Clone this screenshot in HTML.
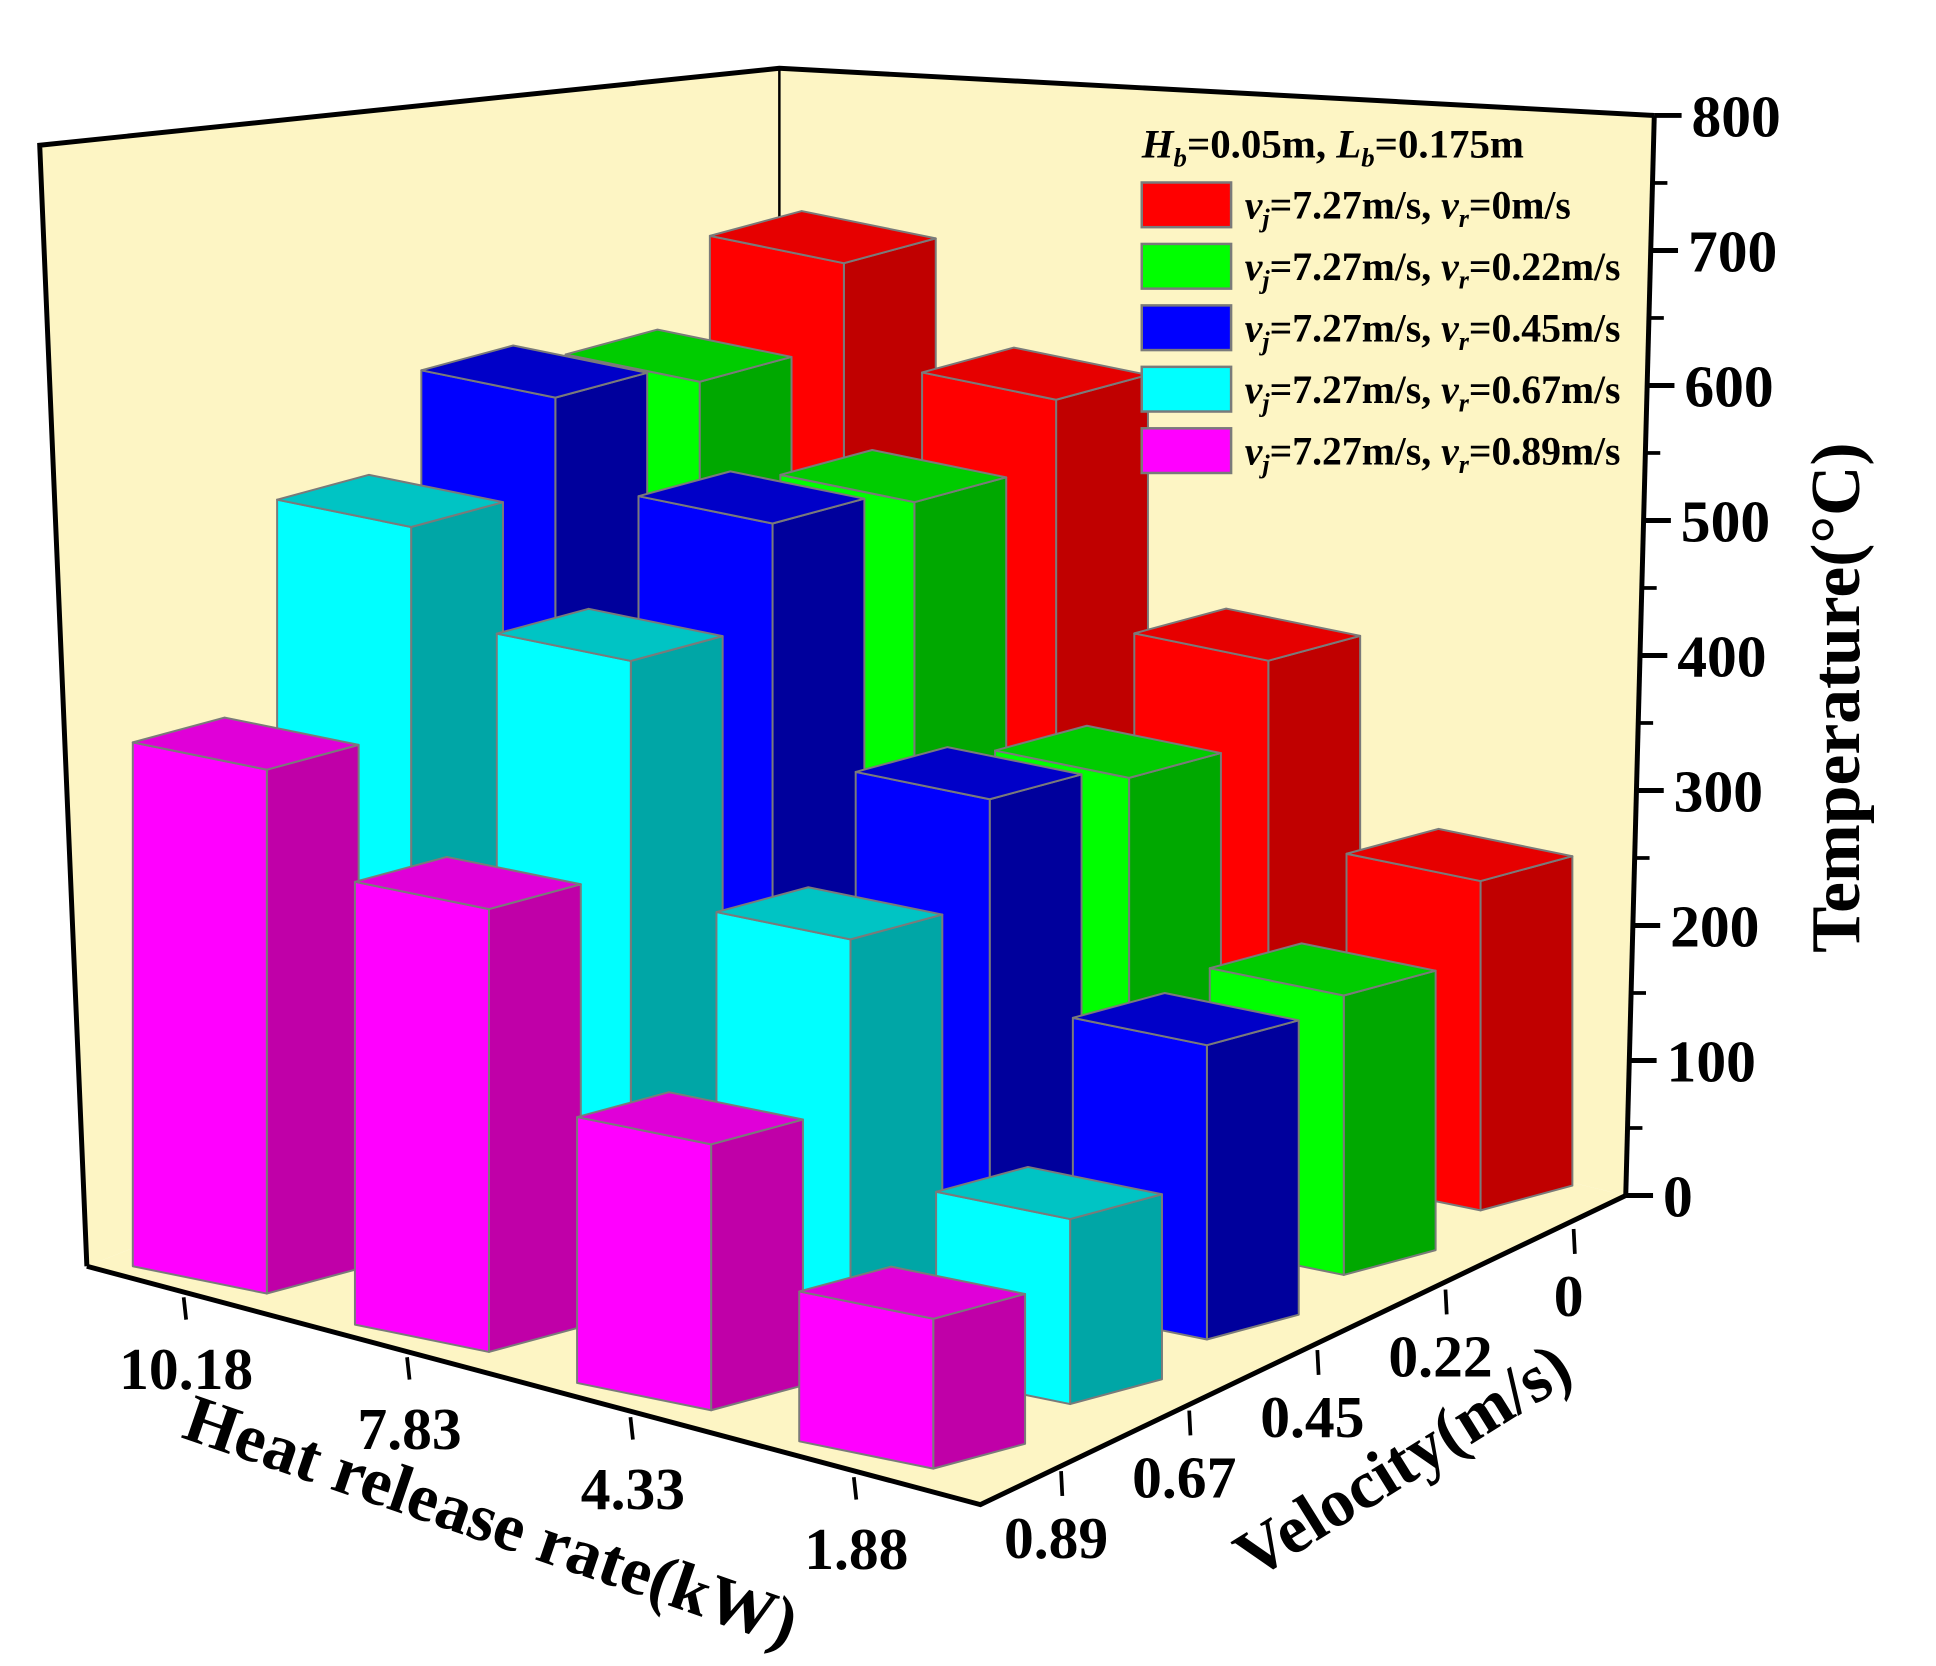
<!DOCTYPE html>
<html>
<head>
<meta charset="utf-8">
<style>
  html, body { margin: 0; padding: 0; background: #fff; }
  svg { display: block; }
  text { font-family: "Liberation Serif", serif; font-weight: bold; fill: #000; }
</style>
</head>
<body>
<svg id="chart" width="1936" height="1666" viewBox="0 0 1560 1342" preserveAspectRatio="none" xmlns="http://www.w3.org/2000/svg">
  <g id="walls">
    <polygon points="32,117 628,55 628,800 70,1020" fill="#fdf5c4"/>
    <polygon points="628,55 1333,93 1310,963 628,800" fill="#fdf5c4"/>
    <polygon points="70,1020 628,800 1310,963 790,1212" fill="#fdf5c4"/>
    <polyline points="70,1020 32,117 628,55 1333,93" fill="none" stroke="#000" stroke-width="4"/>
    <line x1="628" y1="55" x2="628" y2="800" stroke="#000" stroke-width="2"/>
    <polyline points="70,1020 790,1212 1310,963" fill="none" stroke="#000" stroke-width="4"/>
    <line x1="1333" y1="93" x2="1310" y2="963" stroke="#000" stroke-width="4"/>
  </g>
  <g id="bars"></g>
  <g id="axes"></g>
  <g id="legend">
    <text x="920" y="127" font-size="32" textLength="308" lengthAdjust="spacingAndGlyphs"><tspan font-style="italic">H</tspan><tspan font-style="italic" font-size="21" dy="7">b</tspan><tspan dy="-7">=0.05m, </tspan><tspan font-style="italic">L</tspan><tspan font-style="italic" font-size="21" dy="7">b</tspan><tspan dy="-7">=0.175m</tspan></text>
  </g>
  <text x="390" y="1242" font-size="55" text-anchor="middle" transform="rotate(19 390 1242)">Heat release rate(kW)</text>
  <text x="1140" y="1192" font-size="55" text-anchor="middle" transform="rotate(-32 1140 1192)">Velocity(m/s)</text>
  <text x="1498" y="562" font-size="56" text-anchor="middle" transform="rotate(-90 1498 562)">Temperature(°C)</text>
</svg>
<script>
const heatCategories = ["10.18", "7.83", "4.33", "1.88"];
const velocityCategories = ["0", "0.22", "0.45", "0.67", "0.89"];
const seriesRed = [572, 514, 364, 244];
const seriesGreen = [532, 486, 325, 207];
const seriesBlue = [568, 518, 357, 218];
const seriesCyan = [520, 464, 301, 137];
const seriesMagenta = [388, 328, 197, 111];
const zTicks = [0, 100, 200, 300, 400, 500, 600, 700, 800];
const legendLabels = ["0m/s", "0.22m/s", "0.45m/s", "0.67m/s", "0.89m/s"];

const NS = "http://www.w3.org/2000/svg";
const series = [seriesRed, seriesGreen, seriesBlue, seriesCyan, seriesMagenta];
const colors = [
  ["#ff0000", "#e60000", "#c00000"],
  ["#00ff00", "#00cc00", "#00a800"],
  ["#0000ff", "#0000c8", "#00009c"],
  ["#00ffff", "#00c4c4", "#00a6a6"],
  ["#ff00ff", "#e000d8", "#c000a8"]
];
const seriesNames = ["red", "green", "blue", "cyan", "magenta"];
const PX_PER_UNIT = 1.0875;
function zy(v) { return 963 - v * PX_PER_UNIT; }
function zx(v) { return 1310 + v * 23 / 800; }
function baseX(a, b) { return 107 + (4 - b) * 116.25 + a * (179 - (4 - b) * 2); }
function baseY(a, b) { return 1020 + 47 * a - 52 * (4 - b); }
const W = [108, 22], D = [74, -20];

function poly(pts, fill) {
  const p = document.createElementNS(NS, "polygon");
  p.setAttribute("points", pts.map(q => q[0].toFixed(1) + "," + q[1].toFixed(1)).join(" "));
  p.setAttribute("fill", fill);
  p.setAttribute("stroke", "#7a7a7a");
  p.setAttribute("stroke-width", "1.6");
  p.setAttribute("stroke-linejoin", "round");
  return p;
}

const barsG = document.getElementById("bars");
const order = [];
for (let b = 0; b < velocityCategories.length; b++)
  for (let a = 0; a < heatCategories.length; a++) order.push([a, b]);
order.sort((p, q) => (47 * p[0] + 52 * p[1]) - (47 * q[0] + 52 * q[1]));
order.forEach(([a, b]) => {
  const v = series[b][a];
  const h = v * PX_PER_UNIT;
  const x = baseX(a, b), y = baseY(a, b);
  const g = document.createElementNS(NS, "g");
  
  
  const P = [x, y], Pw = [x + W[0], y + W[1]], Pwd = [x + W[0] + D[0], y + W[1] + D[1]], Pd = [x + D[0], y + D[1]];
  const up = q => [q[0], q[1] - h];
  const c = colors[b];
  g.appendChild(poly([Pw, Pwd, up(Pwd), up(Pw)], c[2]));
  g.appendChild(poly([P, Pw, up(Pw), up(P)], c[0]));
  g.appendChild(poly([up(P), up(Pw), up(Pwd), up(Pd)], c[1]));
  barsG.appendChild(g);
});

const axesG = document.getElementById("axes");
function line(x1, y1, x2, y2, w) {
  const l = document.createElementNS(NS, "line");
  l.setAttribute("x1", x1); l.setAttribute("y1", y1);
  l.setAttribute("x2", x2); l.setAttribute("y2", y2);
  l.setAttribute("stroke", "#000"); l.setAttribute("stroke-width", w);
  return l;
}
function txt(s, x, y, size, anchor) {
  const t = document.createElementNS(NS, "text");
  t.setAttribute("x", x); t.setAttribute("y", y);
  t.setAttribute("font-size", size);
  t.setAttribute("text-anchor", anchor);
  t.textContent = s;
  return t;
}
zTicks.forEach(v => {
  const l = line(zx(v), zy(v), zx(v) + 22, zy(v), 4);
  
  
  axesG.appendChild(l);
  if (v < 800) {
    const m = line(zx(v + 50), zy(v + 50), zx(v + 50) + 12, zy(v + 50), 3);
    
    
    axesG.appendChild(m);
  }
  const t = txt(String(v), zx(v) + 30, zy(v) + 17, 48, "start");
  
  
  axesG.appendChild(t);
});
heatCategories.forEach((s, a) => {
  const x = 148 + 180 * a, y = 1045 + 48.3 * a;
  const l = line(x, y, x + 2, y + 18, 3);
  
  
  axesG.appendChild(l);
  const t = txt(s, x + 2, y + 74, 48, "middle");
  
  
  axesG.appendChild(t);
});
velocityCategories.forEach((s, b) => {
  const x = 1268 - 103.25 * b, y = 990 + 48.75 * b;
  const l = line(x, y, x + 1, y + 20, 3);
  
  
  axesG.appendChild(l);
  const t = txt(s, x - 4, y + 70, 48, "middle");
  
  
  axesG.appendChild(t);
});
const legG = document.getElementById("legend");
legendLabels.forEach((s, i) => {
  const y0 = 147 + 49.5 * i;
  const r = document.createElementNS(NS, "rect");
  r.setAttribute("x", 920); r.setAttribute("y", y0);
  r.setAttribute("width", 72); r.setAttribute("height", 36);
  r.setAttribute("fill", colors[i][0]);
  r.setAttribute("stroke", "#7a7a7a"); r.setAttribute("stroke-width", 2);
  
  
  legG.appendChild(r);
  const t = document.createElementNS(NS, "text");
  t.setAttribute("x", 1003); t.setAttribute("y", y0 + 29);
  t.setAttribute("font-size", 32);
  t.innerHTML = '<tspan font-style="italic">v</tspan><tspan font-style="italic" font-size="21" dy="7">j</tspan><tspan dy="-7">=7.27m/s, </tspan><tspan font-style="italic">v</tspan><tspan font-style="italic" font-size="21" dy="7">r</tspan><tspan dy="-7">=' + s + '</tspan>';
  
  
  legG.appendChild(t);
});
</script>
</body>
</html>
